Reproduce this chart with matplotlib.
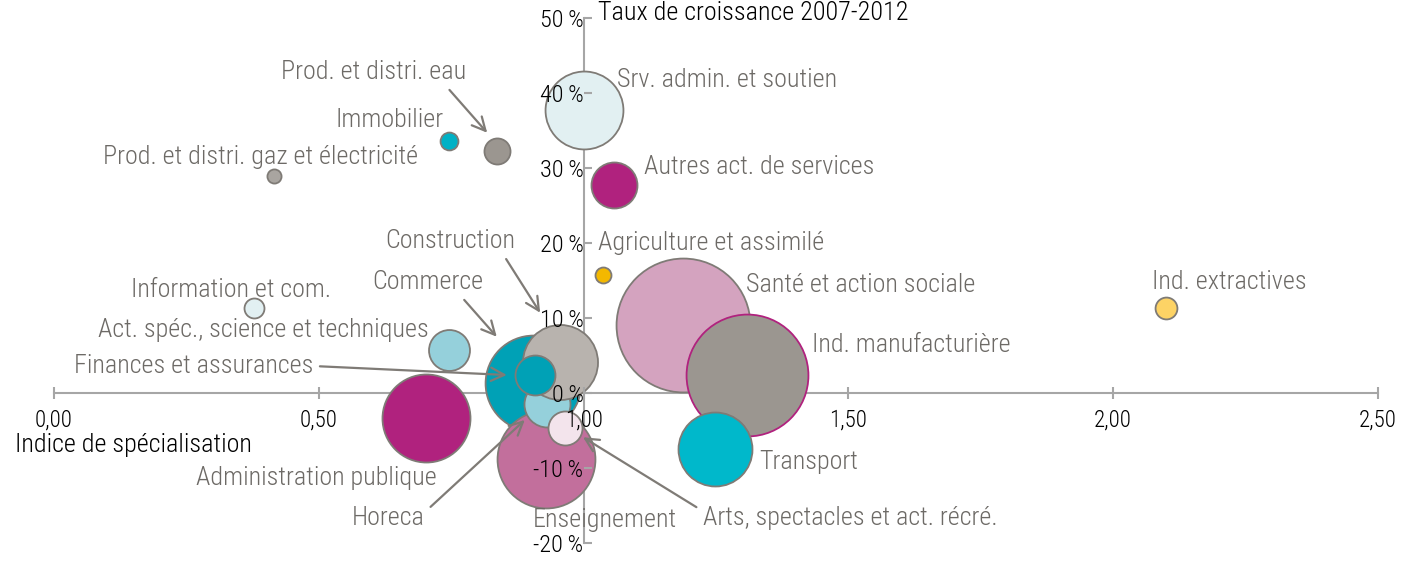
import matplotlib
matplotlib.use("Agg")
import matplotlib.pyplot as plt

plt.rcParams['font.family'] = ['Roboto Condensed', 'DejaVu Sans']
plt.rcParams['font.weight'] = 'light'

# data
secteurs = ["Srv. admin. et soutien", "Autres act. de services", "Agriculture et assimilé",
            "Santé et action sociale", "Ind. manufacturière", "Ind. extractives",
            "Information et com.", "Act. spéc., science et techniques", "Administration publique",
            "Commerce", "Enseignement", "Horeca", "Construction", "Finances et assurances",
            "Arts, spectacles et act. récré.", "Transport", "Immobilier",
            "Prod. et distri. eau", "Prod. et distri. gaz et électricité"]
indice = [1.00, 1.057, 1.037, 1.188, 1.308, 2.10, 0.378, 0.746, 0.702,
          0.905, 0.929, 0.931, 0.955, 0.908, 0.965, 1.248, 0.746, 0.836, 0.415]
croissance = [37.7, 27.7, 15.7, 9.1, 2.4, 11.3, 11.3, 5.7, -3.3,
              1.3, -8.8, -1.5, 4.1, 2.4, -4.7, -7.5, 33.6, 32.3, 28.9]
poids = [152, 53, 6.4, 449, 372, 12, 10, 42, 194,
         230, 240, 53, 141, 40, 29, 137, 8, 17, 5]

x_ticks = [0, 0.5, 1.0, 1.5, 2.0, 2.5]
x_labels = ["0,00", "0,50", "1,00", "1,50", "2,00", "2,50"]
y_ticks = [-20, -10, 0, 10, 20, 30, 40, 50]
y_labels = ["-20\u2009%", "-10\u2009%", "0\u2009%", "10\u2009%", "20\u2009%",
            "30\u2009%", "40\u2009%", "50\u2009%"]

couleurs = ["#e2f0f2", "#b0227e", "#f3b800", "#d4a3bf", "#9b9690", "#fdd365",
            "#e2f0f2", "#95d0db", "#b0227e", "#00a1b6", "#c26f9c", "#95d0db",
            "#b8b3ae", "#00a1b6", "#f3e4ec", "#00b8cb", "#00b1c5", "#9b9690", "#a9a5a0"]
bords = ["#7f7b76"] * len(secteurs)
bords[4] = "#b0227e"

# label placement: (x, y, ha, arrow target or None, relpos)
labels = {
    "Srv. admin. et soutien": (1.063, 41.7, "left", None, None),
    "Autres act. de services": (1.114, 30.1, "left", None, None),
    "Agriculture et assimilé": (1.027, 20.0, "left", None, None),
    "Santé et action sociale": (1.307, 14.4, "left", None, None),
    "Ind. manufacturière": (1.431, 6.4, "left", None, None),
    "Transport": (1.331, -9.2, "left", None, None),
    "Ind. extractives": (2.073, 14.8, "left", None, None),
    "Information et com.": (0.523, 13.7, "right", None, None),
    "Act. spéc., science et techniques": (0.708, 8.4, "right", None, None),
    "Finances et assurances": (0.489, 3.6, "right", (0.855, 2.4), (1, 0.5)),
    "Administration publique": (0.723, -11.3, "right", None, None),
    "Horeca": (0.700, -16.7, "right", (0.889, -3.6), (1, 0.75)),
    "Enseignement": (1.040, -16.9, "center", None, None),
    "Arts, spectacles et act. récré.": (1.225, -16.7, "left", (0.999, -5.9), (0, 0.8)),
    "Commerce": (0.706, 14.8, "center", (0.836, 7.5), (0.78, 0)),
    "Construction": (0.748, 20.3, "center", (0.918, 10.7), (0.9, 0)),
    "Immobilier": (0.735, 36.4, "right", None, None),
    "Prod. et distri. eau": (0.604, 42.8, "center", (0.818, 34.7), (0.88, 0)),
    "Prod. et distri. gaz et électricité": (0.687, 31.5, "right", None, None),
}

# drawing order (back to front)
ordre = ["Srv. admin. et soutien", "Autres act. de services", "Agriculture et assimilé",
         "Santé et action sociale", "Ind. manufacturière", "Transport", "Ind. extractives",
         "Information et com.", "Act. spéc., science et techniques", "Administration publique",
         "Commerce", "Enseignement", "Horeca", "Construction", "Finances et assurances",
         "Arts, spectacles et act. récré.", "Immobilier", "Prod. et distri. eau",
         "Prod. et distri. gaz et électricité"]

gris_txt = "#6d6a66"
gris_axe = "#a6a6a6"
fs = 18.8
fs_ticks = 16.5

fig = plt.figure(figsize=(14.15, 5.61), dpi=100)
ax = fig.add_axes([0, 0, 1, 1])
ax.set_xlim(-0.102, 2.570)
ax.set_ylim(-22.4, 52.4)

for z, nom in enumerate(ordre):
    i = secteurs.index(nom)
    ax.scatter(indice[i], croissance[i], s=poids[i] * 20.7, color=couleurs[i],
               edgecolor=bords[i], linewidth=1.3, zorder=3 + z)

for nom, (lx, ly, ha, cible, rel) in labels.items():
    if cible is None:
        ax.text(lx, ly, nom, ha=ha, va="center", fontsize=fs, color=gris_txt, zorder=40)
    else:
        ax.annotate(nom, xy=cible, xytext=(lx, ly), ha=ha, va="center", fontsize=fs,
                    color=gris_txt, zorder=40,
                    arrowprops=dict(arrowstyle="->", color="#7f7b76", lw=1.6,
                                    mutation_scale=24, relpos=rel, shrinkA=3, shrinkB=0))

# axes crossing at (1, 0)
for s in ["top", "right"]:
    ax.spines[s].set_visible(False)
ax.spines["left"].set_position(("data", 1.0))
ax.spines["bottom"].set_position(("data", 0))
ax.spines["left"].set_bounds(-20, 50)
ax.spines["bottom"].set_bounds(0, 2.5)
for s in ["left", "bottom"]:
    ax.spines[s].set_color(gris_axe)
    ax.spines[s].set_linewidth(1.5)
    ax.spines[s].set_zorder(2)

ax.set_xticks(x_ticks)
ax.set_xticklabels(x_labels)
ax.set_yticks(y_ticks)
ax.set_yticklabels(y_labels)
ax.tick_params(axis="x", direction="inout", length=8, width=1.5, color=gris_axe,
               labelsize=fs_ticks, pad=7)
ax.tick_params(axis="y", direction="in", length=6, width=1.5, color=gris_axe,
               labelsize=fs_ticks + 1, pad=0)
ax.xaxis.set_zorder(50)
ax.yaxis.set_zorder(50)

ax.text(1.027, 50.7, "Taux de croissance 2007-2012", ha="left", va="center", fontsize=fs)
ax.text(-0.074, -6.9, "Indice de spécialisation", ha="left", va="center", fontsize=fs)

fig.savefig("out.png", dpi=100)
